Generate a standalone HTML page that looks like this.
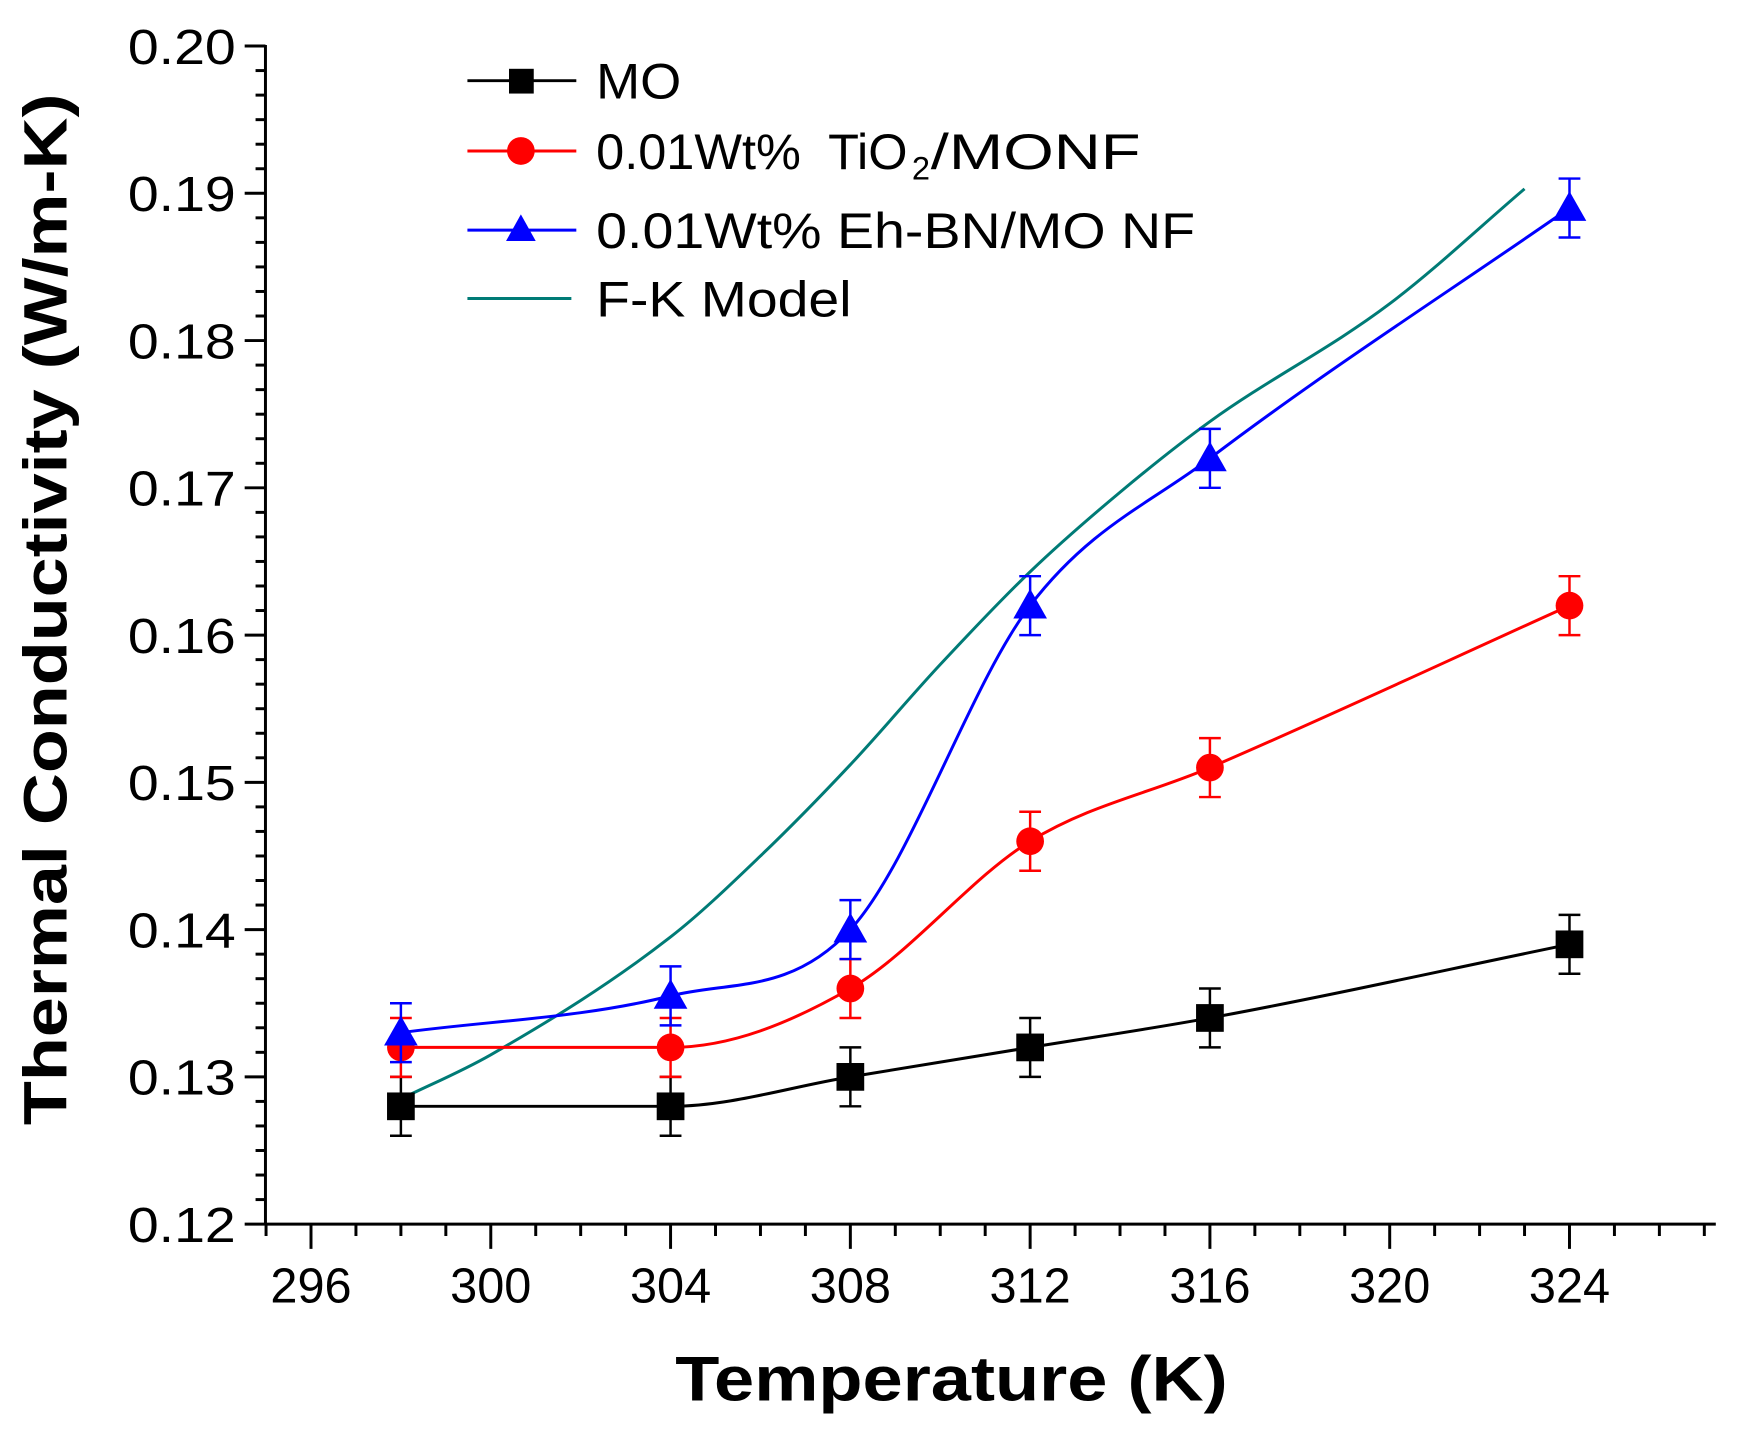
<!DOCTYPE html>
<html><head><meta charset="utf-8"><style>
html,body{margin:0;padding:0;background:#fff;}
svg{display:block;font-family:"Liberation Sans",Arial,sans-serif;}
</style></head><body>
<svg id="s" width="1740" height="1436" viewBox="0 0 1740 1436" xmlns="http://www.w3.org/2000/svg">
<rect width="1740" height="1436" fill="#fff"/>
<g transform="translate(-0.85,-0.5) scale(0.99)">
<g id="axes" stroke="#000" stroke-width="3" fill="none"></g>
<g id="labels" font-size="50" fill="#000"></g>
<g id="series"></g>
<text x="962" y="1415" font-size="64" font-weight="bold" text-anchor="middle" textLength="558" lengthAdjust="spacingAndGlyphs">Temperature (K)</text>
<text transform="translate(68,616) rotate(-90)" font-size="62" font-weight="bold" text-anchor="middle" textLength="1042" lengthAdjust="spacingAndGlyphs">Thermal Conductivity (W/m-K)</text>
<g font-size="51" fill="#000">
<line x1="473" y1="82" x2="583" y2="82" stroke="#000" stroke-width="3"/>
<rect x="515" y="70" width="25" height="25" fill="#000"/>
<text x="603" y="100" textLength="86" lengthAdjust="spacingAndGlyphs">MO</text>
<line x1="473" y1="153" x2="583" y2="153" stroke="#f00" stroke-width="3"/>
<circle cx="527" cy="153" r="14" fill="#f00"/>
<text x="603" y="171" xml:space="preserve">0.01Wt%  TiO</text>
<text x="922" y="182" font-size="33">2</text>
<text x="941" y="171" textLength="212" lengthAdjust="spacingAndGlyphs">/MONF</text>
<line x1="473" y1="233" x2="583" y2="233" stroke="#00f" stroke-width="3"/>
<polygon points="527,217 512,244 542,244" fill="#00f"/>
<text x="603" y="251" textLength="605" lengthAdjust="spacingAndGlyphs">0.01Wt% Eh-BN/MO NF</text>
<line x1="473" y1="302" x2="578" y2="302" stroke="#007b76" stroke-width="3"/>
<text x="603" y="320" textLength="258" lengthAdjust="spacingAndGlyphs">F-K Model</text>
</g>
</g>
</svg>
<script>
const NS="http://www.w3.org/2000/svg";
const X=v=>315+(v-296)*45.4, Y=v=>47+(0.20-v)*14875;
function el(p,t,a,txt){const e=document.createElementNS(NS,t);for(const k in a)e.setAttribute(k,a[k]);if(txt!==undefined)e.textContent=txt;p.appendChild(e);return e;}
const ax=document.getElementById('axes'),lb=document.getElementById('labels'),se=document.getElementById('series');
el(ax,'line',{x1:269,y1:46,x2:269,y2:1238});
el(ax,'line',{x1:268,y1:1237,x2:1734,y2:1237});
for(let i=0;i<=8;i++){const v=0.12+i*0.01,y=Y(v);el(ax,'line',{x1:248,y1:y,x2:269,y2:y});
 el(lb,'text',{x:239,y:y+18,'text-anchor':'end',textLength:109,lengthAdjust:'spacingAndGlyphs'},v.toFixed(2));
 if(i<8)for(let j=1;j<6;j++){const yy=y-j*148.75/6;el(ax,'line',{x1:259,y1:yy,x2:269,y2:yy});}}
for(let t=295;t<=327;t++){const x=X(t);const maj=(t-296)%4==0;el(ax,'line',{x1:x,y1:1237,x2:x,y2:maj?1262:1249});
 if(maj)el(lb,'text',{x:x,y:1316,'text-anchor':'middle','font-size':50,textLength:82,lengthAdjust:'spacingAndGlyphs'},t);}
function mono(pts){const n=pts.length,xs=pts.map(p=>X(p[0])),ys=pts.map(p=>Y(p[1]));const d=[],m=[];
 for(let i=0;i<n-1;i++)d.push((ys[i+1]-ys[i])/(xs[i+1]-xs[i]));
 m[0]=d[0];m[n-1]=d[n-2];for(let i=1;i<n-1;i++){m[i]=d[i-1]*d[i]<=0?0:(d[i-1]+d[i])/2;}
 for(let i=0;i<n-1;i++){if(d[i]==0){m[i]=m[i+1]=0;continue;}const a=m[i]/d[i],b=m[i+1]/d[i],s=a*a+b*b;if(s>9){const t=3/Math.sqrt(s);m[i]=t*a*d[i];m[i+1]=t*b*d[i];}}
 let p=`M${xs[0]},${ys[0]}`;for(let i=0;i<n-1;i++){const h=(xs[i+1]-xs[i])/3;p+=` C${xs[i]+h},${ys[i]+m[i]*h} ${xs[i+1]-h},${ys[i+1]-m[i+1]*h} ${xs[i+1]},${ys[i+1]}`;}return p;}
const T=[298,304,308,312,316,324];
const S=[
 {c:'#000',v:[.128,.128,.130,.132,.134,.139],m:'sq'},
 {c:'#f00',v:[.132,.132,.136,.146,.151,.162],m:'ci'},
 {c:'#00f',v:[.133,.1355,.140,.162,.172,.189],m:'tr'}];
el(se,'path',{d:mono([[298,.1285],[300,.1315],[304,.1395],[306,.145],[308,.1512],[310,.158],[312,.1643],[314,.1697],[316,.1745],[320,.1825],[323,.1903]]),stroke:'#007b76','stroke-width':3,fill:'none'});
for(const s of S){el(se,'path',{d:mono(T.map((t,i)=>[t,s.v[i]])),stroke:s.c,'stroke-width':3,fill:'none'});}
for(const s of S){T.forEach((t,i)=>{const x=X(t),y=Y(s.v[i]),e=0.002*14875;
 el(se,'line',{x1:x,y1:y-e,x2:x,y2:y+e,stroke:s.c,'stroke-width':2.5});
 el(se,'line',{x1:x-11,y1:y-e,x2:x+11,y2:y-e,stroke:s.c,'stroke-width':2.5});
 el(se,'line',{x1:x-11,y1:y+e,x2:x+11,y2:y+e,stroke:s.c,'stroke-width':2.5});
 if(s.m=='sq')el(se,'rect',{x:x-14,y:y-14,width:28,height:28,fill:s.c});
 else if(s.m=='ci')el(se,'circle',{cx:x,cy:y,r:14,fill:s.c});
 else el(se,'polygon',{points:`${x},${y-17} ${x-17},${y+13} ${x+17},${y+13}`,fill:s.c});});}
</script>
</body></html>
